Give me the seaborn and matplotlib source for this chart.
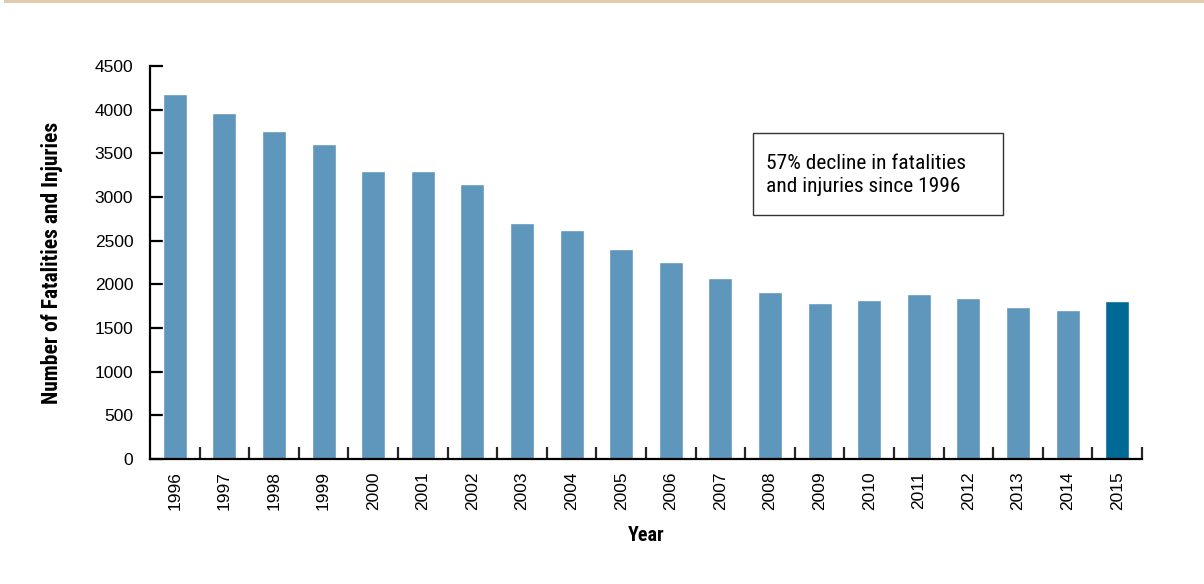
import matplotlib
matplotlib.use("Agg")
import matplotlib.pyplot as plt
from matplotlib import font_manager
from matplotlib.patches import Rectangle
import seaborn as sns

# Datos
years = [str(y) for y in range(1996, 2016)]
counts = [4180, 3965, 3755, 3605, 3300, 3295, 3145, 2705, 2625, 2405,
          2260, 2075, 1915, 1790, 1825, 1895, 1845, 1745, 1710, 1810]
highlight_year = "2015"
note = "57% decline in fatalities\nand injuries since 1996"

light_blue = "#5f96bb"
dark_blue = "#006996"

# Fuentes
installed = {f.name for f in font_manager.fontManager.ttflist}


def pick(names):
    for n in names:
        if n in installed:
            return n
    return "DejaVu Sans"


narrow = pick(["Liberation Sans Narrow", "Roboto Condensed", "Archivo Narrow",
               "PT Sans Narrow", "IBM Plex Sans Condensed", "DejaVu Sans"])
regular = pick(["Liberation Sans", "Arimo", "DejaVu Sans"])

sns.set_style("white")
plt.rcParams["font.family"] = [regular, "DejaVu Sans"]
plt.rcParams["text.color"] = "black"
plt.rcParams["axes.labelcolor"] = "black"

palette = {y: (dark_blue if y == highlight_year else light_blue) for y in years}

fig = plt.figure(figsize=(12.04, 5.84), dpi=100)
ax = fig.add_axes([150 / 1204, 1 - 459 / 584, (1142 - 150) / 1204, (459 - 66) / 584])

sns.barplot(x=years, y=counts, hue=years, palette=palette, legend=False,
            width=0.48, saturation=1, ax=ax)

ax.set_xlim(-0.5, len(years) - 0.5)
ax.set_ylim(0, 4500)
ax.set_yticks(range(0, 4501, 500))
ax.set_yticks([4500], minor=True)
ax.set_xticks([i + 0.5 for i in range(len(years))], minor=True)

for s in ["top", "right"]:
    ax.spines[s].set_visible(False)
for s in ["left", "bottom"]:
    ax.spines[s].set_linewidth(1.6)
    ax.spines[s].set_color("black")

ax.tick_params(axis="y", which="major", direction="in", length=9, width=1.6,
               labelsize=12.5, pad=12, colors="black", left=True)
ax.tick_params(axis="y", which="minor", direction="in", length=17, width=1.6, left=True)
ax.tick_params(axis="x", which="major", length=0, labelsize=12.5, pad=9,
               labelrotation=90, colors="black")
ax.tick_params(axis="x", which="minor", direction="in", length=9, width=1.6, bottom=True)
for lbl in ax.get_xticklabels():
    lbl.set_va("top")

ax.set_ylabel("Number of Fatalities and Injuries", fontsize=15.5, fontweight="bold",
              family=narrow)
ax.set_xlabel("Year", fontsize=14.5, fontweight="bold", family=narrow, labelpad=11)
ax.yaxis.set_label_coords(-0.088, 0.5)

# Cuadro de nota
ax.text(766 / 1204, 1 - 175 / 584, note, transform=fig.transFigure, fontsize=15.4,
        family=narrow, va="center", ha="left", linespacing=1.25)
fig.add_artist(Rectangle((753 / 1204, 1 - 215 / 584), (1003 - 753) / 1204, (215 - 133) / 584,
                         transform=fig.transFigure, fill=False, edgecolor="#333333", linewidth=1))

# Línea superior
fig.add_artist(Rectangle((4 / 1204, 1 - 3 / 584), 1, 3 / 584, transform=fig.transFigure,
                         facecolor="#e0cbae", edgecolor="none"))

fig.savefig("out.png", dpi=100)
plt.close(fig)
